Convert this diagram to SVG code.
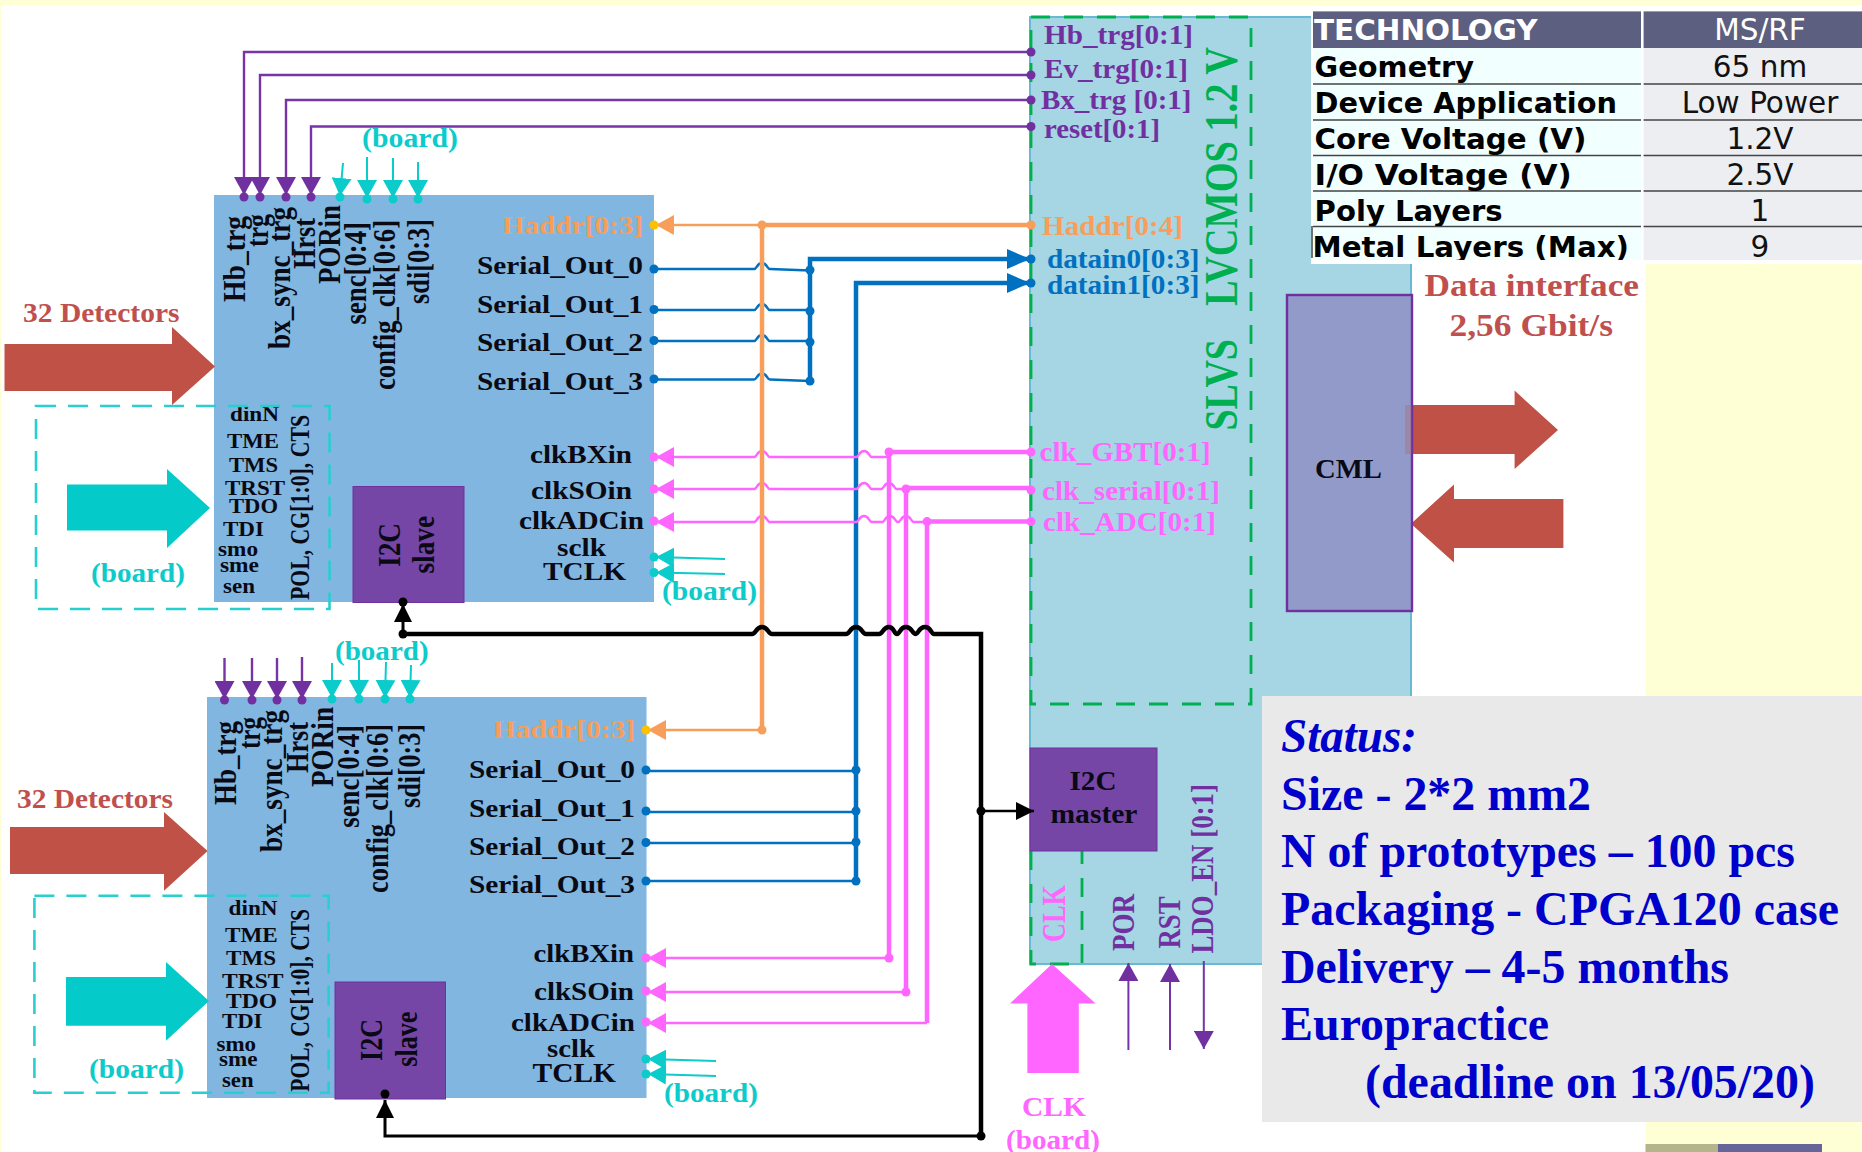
<svg xmlns="http://www.w3.org/2000/svg" width="1862" height="1152" viewBox="0 0 1862 1152">
<style>
text{font-family:"Liberation Serif","Times New Roman",serif;font-weight:bold}
.l{font-size:26px;fill:#0a0a14}
.s{font-size:21px;fill:#0a0a14}
.v{font-size:31px;fill:#0a0a14}
.po{font-size:27px;fill:#0a0a14}
.o{fill:#f79e5a}
.c{fill:#0ccbcb;font-size:27px}
.p{fill:#7030a0;font-size:27px}
.pv{fill:#7030a0;font-size:32px}
.b{fill:#0070c0;font-size:27px}
.m{fill:#ff66ff;font-size:27px}
.mv{fill:#ff66ff;font-size:33px}
.r{fill:#c0504d;font-size:27px}
.big{fill:#c0504d;font-size:31px}
.g{fill:#00b050;font-size:46px}
.st{fill:#0000cc;font-size:48px}
.t,.tv{font-family:"DejaVu Sans",Verdana,sans-serif;font-size:29px}
.t{font-weight:bold;fill:#000}
.tv{font-weight:normal;fill:#111;text-anchor:middle;font-size:29.5px}
.block{fill:#80b6df}
.slave{fill:#7546a6;stroke:#7030a0;stroke-width:1}
.cyanbox{fill:none;stroke:#29cfcf;stroke-width:2.6;stroke-dasharray:20 12}
.greenbox{fill:none;stroke:#00b050;stroke-width:2.8;stroke-dasharray:19 14}
.w{fill:none;stroke-linejoin:miter}
.wp{stroke:#7634a6;stroke-width:2.4}
.wc{stroke:#0ccbcb;stroke-width:2}
.wo{stroke:#f79e5a;stroke-width:2.5}
.wb{stroke:#0070c0;stroke-width:2.5}
.wm{stroke:#ff66ff;stroke-width:2.5}
.wk{stroke:#000;stroke-width:2.5}
.th{stroke-width:4.5}
.dp{fill:#7030a0}.dc{fill:#0ccbcb}.dy{fill:#ffc000}.do{fill:#f79e5a}.db{fill:#0070c0}.dm{fill:#ff66ff}.dk{fill:#000}
.row{stroke:#444;stroke-width:1.5}
</style>
<defs>
<marker id="ap" markerUnits="userSpaceOnUse" viewBox="0 0 18 20" refX="18" refY="10" markerWidth="18" markerHeight="20" orient="auto"><path d="M0 0L18 10L0 20z" fill="#7030a0"/></marker>
<marker id="ac" markerUnits="userSpaceOnUse" viewBox="0 0 18 20" refX="18" refY="10" markerWidth="18" markerHeight="20" orient="auto"><path d="M0 0L18 10L0 20z" fill="#0ccbcb"/></marker>
<marker id="ao" markerUnits="userSpaceOnUse" viewBox="0 0 18 20" refX="18" refY="10" markerWidth="18" markerHeight="20" orient="auto"><path d="M0 0L18 10L0 20z" fill="#f79e5a"/></marker>
<marker id="am" markerUnits="userSpaceOnUse" viewBox="0 0 18 20" refX="18" refY="10" markerWidth="18" markerHeight="20" orient="auto"><path d="M0 0L18 10L0 20z" fill="#ff66ff"/></marker>
<marker id="ab" markerUnits="userSpaceOnUse" viewBox="0 0 23 20" refX="23" refY="10" markerWidth="23" markerHeight="20" orient="auto"><path d="M0 0L23 10L0 20z" fill="#0070c0"/></marker>
<marker id="ak" markerUnits="userSpaceOnUse" viewBox="0 0 18 18" refX="18" refY="9" markerWidth="18" markerHeight="18" orient="auto"><path d="M0 0L18 9L0 18z" fill="#000"/></marker>
<clipPath id="polyclip"><rect x="1311" y="190" width="330" height="36"/></clipPath>
<clipPath id="metalclip"><rect x="1311" y="228" width="330" height="32"/></clipPath>
</defs>
<rect width="1862" height="1152" fill="#ffffd6"/>
<rect x="1" y="5" width="1644.500" height="1147" fill="#fff"/>
<rect x="1645.500" y="1144" width="72.500" height="8" fill="#b5b58c"/>
<rect x="1718" y="1144" width="104" height="8" fill="#65659a"/>

<g id="chip">
<rect x="1030" y="17" width="381" height="947" fill="#a6d5e3" stroke="#68bad2" stroke-width="2"/>
<rect class="greenbox" x="1031" y="17" width="220" height="687"/>
<path class="greenbox" d="M1031 851V964H1082V851"/>
<text class="p" x="1044" y="43.700" textLength="149" lengthAdjust="spacingAndGlyphs">Hb_trg[0:1]</text>
<text class="p" x="1044" y="77.500" textLength="144" lengthAdjust="spacingAndGlyphs">Ev_trg[0:1]</text>
<text class="p" x="1041" y="109" textLength="150.500" lengthAdjust="spacingAndGlyphs">Bx_trg [0:1]</text>
<text class="p" x="1044" y="137.500" textLength="116" lengthAdjust="spacingAndGlyphs">reset[0:1]</text>
<text class="o" style="font-size:27px" x="1042" y="234.700" textLength="141" lengthAdjust="spacingAndGlyphs">Haddr[0:4]</text>
<text class="b" x="1047" y="267.800" textLength="152.500" lengthAdjust="spacingAndGlyphs">datain0[0:3]</text>
<text class="b" x="1047" y="294" textLength="152.500" lengthAdjust="spacingAndGlyphs">datain1[0:3]</text>
<text class="m" x="1039.600" y="461" textLength="171" lengthAdjust="spacingAndGlyphs">clk_GBT[0:1]</text>
<text class="m" x="1042" y="500" textLength="178" lengthAdjust="spacingAndGlyphs">clk_serial[0:1]</text>
<text class="m" x="1043" y="530.600" textLength="173" lengthAdjust="spacingAndGlyphs">clk_ADC[0:1]</text>
<text class="g" transform="translate(1237.400,306) rotate(-90)" textLength="259" lengthAdjust="spacingAndGlyphs">LVCMOS 1.2 V</text>
<text class="g" transform="translate(1237.400,430.600) rotate(-90)" textLength="91.600" lengthAdjust="spacingAndGlyphs">SLVS</text>
<text class="mv" transform="translate(1065,942) rotate(-90)" textLength="57" lengthAdjust="spacingAndGlyphs">CLK</text>
<text class="pv" transform="translate(1133.500,951) rotate(-90)" textLength="57" lengthAdjust="spacingAndGlyphs">POR</text>
<text class="pv" transform="translate(1180,948.500) rotate(-90)" textLength="52" lengthAdjust="spacingAndGlyphs">RST</text>
<text class="pv" transform="translate(1212.600,953.600) rotate(-90)" textLength="169.600" lengthAdjust="spacingAndGlyphs">LDO_EN [0:1]</text>
</g>

<g id="i2c-master">
<rect class="slave" x="1030" y="748" width="127" height="103"/>
<text class="l" style="font-size:28px" x="1069.500" y="789.700" textLength="47" lengthAdjust="spacingAndGlyphs">I2C</text>
<text class="l" style="font-size:28px" x="1050.500" y="823" textLength="87" lengthAdjust="spacingAndGlyphs">master</text>
</g>

<g id="data-interface">
<path d="M1412 405H1514.600V390.600L1558 430L1514.600 469V454H1412z" fill="#bf5146"/>
<path d="M1411 523.700L1454 484.500V499H1563.400V548H1454V562.400z" fill="#bf5146"/>
<text class="big" x="1424.500" y="295.500" textLength="214.500" lengthAdjust="spacingAndGlyphs">Data interface</text>
<text class="big" x="1449.500" y="335.500" textLength="163.500" lengthAdjust="spacingAndGlyphs">2,56 Gbit/s</text>
</g>

<g id="cml">
<rect x="1287" y="295" width="125" height="316" fill="#919ac9" stroke="#7030a0" stroke-width="2.4"/>
<rect x="1405" y="405" width="7" height="49" fill="#bf5146" opacity="0.25"/>
<text class="l" style="font-size:28px" x="1315" y="477.500" textLength="67" lengthAdjust="spacingAndGlyphs">CML</text>
</g>

<g id="block-top">
<rect class="block" x="214" y="195" width="440" height="407"/>
<text class="v" transform="translate(245,302) rotate(-90)" textLength="86" lengthAdjust="spacingAndGlyphs">Hb_trg</text>
<text class="v" transform="translate(268,247) rotate(-90)" textLength="33" lengthAdjust="spacingAndGlyphs">trg</text>
<text class="v" transform="translate(290,349) rotate(-90)" textLength="142" lengthAdjust="spacingAndGlyphs">bx_sync_trg</text>
<text class="v" transform="translate(315,269) rotate(-90)" textLength="51" lengthAdjust="spacingAndGlyphs">Hrst</text>
<text class="v" transform="translate(340,284) rotate(-90)" textLength="79" lengthAdjust="spacingAndGlyphs">PORin</text>
<text class="v" transform="translate(366,324.500) rotate(-90)" textLength="102.500" lengthAdjust="spacingAndGlyphs">senc[0:4]</text>
<text class="v" transform="translate(395,390) rotate(-90)" textLength="170" lengthAdjust="spacingAndGlyphs">config_clk[0:6]</text>
<text class="v" transform="translate(428.600,304) rotate(-90)" textLength="85" lengthAdjust="spacingAndGlyphs">sdi[0:3]</text>
<text class="l o" x="502" y="233.500" textLength="141" lengthAdjust="spacingAndGlyphs">Haddr[0:3]</text>
<text class="l" x="477" y="274" textLength="166" lengthAdjust="spacingAndGlyphs">Serial_Out_0</text>
<text class="l" x="477" y="313" textLength="166" lengthAdjust="spacingAndGlyphs">Serial_Out_1</text>
<text class="l" x="477" y="351" textLength="166" lengthAdjust="spacingAndGlyphs">Serial_Out_2</text>
<text class="l" x="477" y="390" textLength="166" lengthAdjust="spacingAndGlyphs">Serial_Out_3</text>
<text class="l" x="530" y="463" textLength="102" lengthAdjust="spacingAndGlyphs">clkBXin</text>
<text class="l" x="531" y="499" textLength="101" lengthAdjust="spacingAndGlyphs">clkSOin</text>
<text class="l" x="519" y="529" textLength="125" lengthAdjust="spacingAndGlyphs">clkADCin</text>
<text class="l" x="557" y="556" textLength="49" lengthAdjust="spacingAndGlyphs">sclk</text>
<text class="l" x="543" y="580" textLength="83" lengthAdjust="spacingAndGlyphs">TCLK</text>
<text class="s" x="230" y="421" textLength="49" lengthAdjust="spacingAndGlyphs">dinN</text>
<text class="s" x="227" y="448" textLength="52" lengthAdjust="spacingAndGlyphs">TME</text>
<text class="s" x="229" y="472" textLength="49" lengthAdjust="spacingAndGlyphs">TMS</text>
<text class="s" x="225" y="495" textLength="60" lengthAdjust="spacingAndGlyphs">TRST</text>
<text class="s" x="229" y="513" textLength="49" lengthAdjust="spacingAndGlyphs">TDO</text>
<text class="s" x="223" y="535.500" textLength="41" lengthAdjust="spacingAndGlyphs">TDI</text>
<text class="s" x="218" y="556" textLength="40" lengthAdjust="spacingAndGlyphs">smo</text>
<text class="s" x="220" y="572" textLength="39" lengthAdjust="spacingAndGlyphs">sme</text>
<text class="s" x="223" y="593" textLength="32" lengthAdjust="spacingAndGlyphs">sen</text>
<text class="po" transform="translate(309,600) rotate(-90)" textLength="185" lengthAdjust="spacingAndGlyphs">POL, CG[1:0], CTS</text>
<rect class="slave" x="353" y="486.500" width="111" height="116"/>
<text class="v" transform="translate(399.600,567) rotate(-90)" textLength="44" lengthAdjust="spacingAndGlyphs">I2C</text>
<text class="v" transform="translate(434,573.500) rotate(-90)" textLength="57.500" lengthAdjust="spacingAndGlyphs">slave</text>
</g>

<g id="block-bottom">
<rect class="block" x="207" y="697" width="439.500" height="401"/>
<text class="v" transform="translate(235.700,805) rotate(-90)" textLength="84" lengthAdjust="spacingAndGlyphs">Hb_trg</text>
<text class="v" transform="translate(260,749) rotate(-90)" textLength="32" lengthAdjust="spacingAndGlyphs">trg</text>
<text class="v" transform="translate(282,852) rotate(-90)" textLength="142" lengthAdjust="spacingAndGlyphs">bx_sync_trg</text>
<text class="v" transform="translate(308,773) rotate(-90)" textLength="51" lengthAdjust="spacingAndGlyphs">Hrst</text>
<text class="v" transform="translate(332.600,787) rotate(-90)" textLength="80" lengthAdjust="spacingAndGlyphs">PORin</text>
<text class="v" transform="translate(359,827.700) rotate(-90)" textLength="102.700" lengthAdjust="spacingAndGlyphs">senc[0:4]</text>
<text class="v" transform="translate(387.500,893) rotate(-90)" textLength="169" lengthAdjust="spacingAndGlyphs">config_clk[0:6]</text>
<text class="v" transform="translate(419.600,808) rotate(-90)" textLength="84" lengthAdjust="spacingAndGlyphs">sdi[0:3]</text>
<text class="l o" x="493" y="738" textLength="142" lengthAdjust="spacingAndGlyphs">Haddr[0:3]</text>
<text class="l" x="469" y="777.700" textLength="166" lengthAdjust="spacingAndGlyphs">Serial_Out_0</text>
<text class="l" x="469" y="816.700" textLength="166" lengthAdjust="spacingAndGlyphs">Serial_Out_1</text>
<text class="l" x="469" y="855" textLength="166" lengthAdjust="spacingAndGlyphs">Serial_Out_2</text>
<text class="l" x="469" y="893" textLength="166" lengthAdjust="spacingAndGlyphs">Serial_Out_3</text>
<text class="l" x="533.500" y="961.700" textLength="100.500" lengthAdjust="spacingAndGlyphs">clkBXin</text>
<text class="l" x="534" y="1000" textLength="100" lengthAdjust="spacingAndGlyphs">clkSOin</text>
<text class="l" x="511" y="1030.700" textLength="124" lengthAdjust="spacingAndGlyphs">clkADCin</text>
<text class="l" x="547" y="1057" textLength="48" lengthAdjust="spacingAndGlyphs">sclk</text>
<text class="l" style="font-size:28px" x="532.600" y="1081.700" textLength="83.400" lengthAdjust="spacingAndGlyphs">TCLK</text>
<text class="s" x="228.600" y="915" textLength="49" lengthAdjust="spacingAndGlyphs">dinN</text>
<text class="s" x="225" y="941.700" textLength="52.700" lengthAdjust="spacingAndGlyphs">TME</text>
<text class="s" x="226" y="965" textLength="50" lengthAdjust="spacingAndGlyphs">TMS</text>
<text class="s" x="222" y="988" textLength="61.500" lengthAdjust="spacingAndGlyphs">TRST</text>
<text class="s" x="226" y="1007.700" textLength="51" lengthAdjust="spacingAndGlyphs">TDO</text>
<text class="s" x="222" y="1028" textLength="40.500" lengthAdjust="spacingAndGlyphs">TDI</text>
<text class="s" x="216.500" y="1050.700" textLength="39.500" lengthAdjust="spacingAndGlyphs">smo</text>
<text class="s" x="219" y="1065.700" textLength="38.600" lengthAdjust="spacingAndGlyphs">sme</text>
<text class="s" x="222" y="1086.700" textLength="31.600" lengthAdjust="spacingAndGlyphs">sen</text>
<text class="po" transform="translate(309.400,1091.700) rotate(-90)" textLength="182.700" lengthAdjust="spacingAndGlyphs">POL, CG[1:0], CTS</text>
<rect class="slave" x="335" y="982" width="110.500" height="117"/>
<text class="v" transform="translate(381.700,1061) rotate(-90)" textLength="42" lengthAdjust="spacingAndGlyphs">I2C</text>
<text class="v" transform="translate(416.500,1066.700) rotate(-90)" textLength="55" lengthAdjust="spacingAndGlyphs">slave</text>
</g>

<g id="detectors-top">
<path d="M4.500 344H172V327L215 366.500L172 405V391H4.500z" fill="#bf5146"/>
<text class="r" x="23" y="321.600" textLength="156.500" lengthAdjust="spacingAndGlyphs">32 Detectors</text>
</g>
<g id="detectors-bottom">
<path d="M10 827H164V812L207.600 851L164 890.700V874H10z" fill="#bf5146"/>
<text class="r" x="17" y="808" textLength="156" lengthAdjust="spacingAndGlyphs">32 Detectors</text>
</g>
<g id="board-top">
<rect class="cyanbox" x="36" y="406" width="293.500" height="203"/>
<path d="M67 484.500H167V469L210 508L167 548V530.600H67z" fill="#05caca"/>
<text class="c" x="91" y="581.600" textLength="94" lengthAdjust="spacingAndGlyphs">(board)</text>
</g>
<g id="board-bottom">
<rect class="cyanbox" x="34.400" y="895.700" width="294.200" height="197"/>
<path d="M66 977H166V962L209 1001L166 1040.700V1025.700H66z" fill="#05caca"/>
<text class="c" x="89" y="1078" textLength="95" lengthAdjust="spacingAndGlyphs">(board)</text>
</g>
<g id="clk-in">
<path d="M1052 964L1095.600 1003.400H1078.800V1073H1027.400V1003.400H1010z" fill="#ff66ff"/>
<text class="m" x="1022" y="1116.400" textLength="64" lengthAdjust="spacingAndGlyphs">CLK</text>
<text class="m" x="1006" y="1149" textLength="94" lengthAdjust="spacingAndGlyphs">(board)</text>
</g>
<g id="board-labels">
<text class="c" x="362" y="147" textLength="96" lengthAdjust="spacingAndGlyphs">(board)</text>
<text class="c" x="335" y="660" textLength="93.600" lengthAdjust="spacingAndGlyphs">(board)</text>
<text class="c" x="662" y="600" textLength="95" lengthAdjust="spacingAndGlyphs">(board)</text>
<text class="c" x="664" y="1102" textLength="94" lengthAdjust="spacingAndGlyphs">(board)</text>
</g>

<g id="connectors">
<path class="w wp" marker-end="url(#ap)" d="M1031 52H244V195"/>
<path class="w wp" marker-end="url(#ap)" d="M1031 75H260V195"/>
<path class="w wp" marker-end="url(#ap)" d="M1031 100H286V195"/>
<path class="w wp" marker-end="url(#ap)" d="M1031 126.500H311V195"/>
<path class="w wc" marker-end="url(#ac)" d="M343 163L340 196"/>
<path class="w wc" marker-end="url(#ac)" d="M367 157V198"/>
<path class="w wc" marker-end="url(#ac)" d="M393 158V198"/>
<path class="w wc" marker-end="url(#ac)" d="M418 162V198"/>
<path class="w wp" marker-end="url(#ap)" d="M224.500 658V699"/>
<path class="w wp" marker-end="url(#ap)" d="M252 658V699"/>
<path class="w wp" marker-end="url(#ap)" d="M277 658V699"/>
<path class="w wp" marker-end="url(#ap)" d="M302 657V699"/>
<path class="w wc" marker-end="url(#ac)" d="M332 663V698"/>
<path class="w wc" marker-end="url(#ac)" d="M359 660V698"/>
<path class="w wc" marker-end="url(#ac)" d="M386 662L385 698"/>
<path class="w wc" marker-end="url(#ac)" d="M411 665L410 698"/>
<path class="w wc" marker-end="url(#ac)" d="M725 559L656 557"/>
<path class="w wc" marker-end="url(#ac)" d="M725 574L656 572.500"/>
<path class="w wc" marker-end="url(#ac)" d="M716 1061L648 1059"/>
<path class="w wc" marker-end="url(#ac)" d="M716 1076L648 1074"/>

<path class="w wb" d="M654 269H754c3,0 3,-6 8,-6s5,6 8,6L810 270.500"/>
<path class="w wb" d="M654 310H754c3,0 3,-6 8,-6s5,6 8,6H810"/>
<path class="w wb" d="M654 341H754c3,0 3,-6 8,-6s5,6 8,6H810"/>
<path class="w wb" d="M654 379.500H754c3,0 3,-6 8,-6s5,6 8,6L810 381"/>
<path class="w wb th" marker-end="url(#ab)" d="M810 381V259H1030"/>
<path class="w wb th" marker-end="url(#ab)" d="M856 881V283H1030"/>
<path class="w wb" d="M646 771H856M646 812H856M646 843H856M646 881H856"/>

<path class="w wm" marker-end="url(#am)" d="M889 457H872c-3,0 -3,-6 -8,-6s-5,6 -8,6s-3,0 -8,0H770c-3,0 -3,-6 -8,-6s-5,6 -8,6H656"/>
<path class="w wm" marker-end="url(#am)" d="M906 489H897c-3,0 -3,-6 -8,-6s-5,6 -8,6H872c-3,0 -3,-6 -8,-6s-5,6 -8,6s-3,0 -8,0H770c-3,0 -3,-6 -8,-6s-5,6 -8,6H656"/>
<path class="w wm" marker-end="url(#am)" d="M927 522H914c-3,0 -3,-6 -8,-6s-5,6 -8,6c-3,0 -3,-6 -8,-6s-5,6 -8,6H872c-3,0 -3,-6 -8,-6s-5,6 -8,6s-3,0 -8,0H770c-3,0 -3,-6 -8,-6s-5,6 -8,6H656"/>
<path class="w wm th" d="M1031 452H889V958"/>
<path class="w wm th" d="M1031 488H906V992"/>
<path class="w wm th" d="M1031 521.600H927V1023"/>
<path class="w wm" marker-end="url(#am)" d="M889 958H648"/>
<path class="w wm" marker-end="url(#am)" d="M906 992H648"/>
<path class="w wm" marker-end="url(#am)" d="M927 1023H648"/>

<path class="w wo" marker-end="url(#ao)" d="M762 225H656"/>
<path class="w wo th" d="M1031 225H762V730"/>
<path class="w wo" marker-end="url(#ao)" d="M762 730H648"/>

<path class="w wk th" d="M403 634H752c4,0 4,-7 10,-7s6,7 10,7H846c4,0 4,-7 10,-7s6,7 10,7H879c4,0 4,-7 10,-7c5,0 5,7 8,7c3,0 3,-7 9,-7s6,7 10,7c2,0 3,-7 9,-7s6,7 9,7H981V1136"/>
<path class="w wk" style="stroke-width:3" marker-end="url(#ak)" d="M403 634V604"/>
<path class="w wk" style="stroke-width:3" marker-end="url(#ak)" d="M981 1136H385V1100"/>
<path class="w wk" marker-end="url(#ak)" d="M981 811H1034"/>
<path class="w wp" style="stroke-width:2" marker-end="url(#ap)" d="M1128.400 1050V963"/>
<path class="w wp" style="stroke-width:2" marker-end="url(#ap)" d="M1170 1050V964"/>
<path class="w wp" style="stroke-width:2" marker-end="url(#ap)" d="M1203.800 961V1049"/>
<g id="dots">
<circle class="dp" cx="244" cy="197" r="4.500"/><circle class="dp" cx="260" cy="197" r="4.500"/><circle class="dp" cx="286" cy="197" r="4.500"/><circle class="dp" cx="311" cy="197" r="4.500"/>
<circle class="dc" cx="340" cy="197" r="4.500"/><circle class="dc" cx="367" cy="199" r="4.500"/><circle class="dc" cx="393" cy="199" r="4.500"/><circle class="dc" cx="418" cy="199" r="4.500"/>
<circle class="dp" cx="224.500" cy="700" r="4.500"/><circle class="dp" cx="252" cy="700" r="4.500"/><circle class="dp" cx="277" cy="700" r="4.500"/><circle class="dp" cx="302" cy="700" r="4.500"/>
<circle class="dc" cx="332" cy="699" r="4.500"/><circle class="dc" cx="359" cy="699" r="4.500"/><circle class="dc" cx="385" cy="699" r="4.500"/><circle class="dc" cx="410" cy="699" r="4.500"/>
<circle class="dp" cx="1031" cy="52" r="4.500"/><circle class="dp" cx="1031" cy="75" r="4.500"/><circle class="dp" cx="1031" cy="100" r="4.500"/><circle class="dp" cx="1031" cy="126.500" r="4.500"/>
<circle class="dy" cx="654" cy="225" r="4.500"/><circle class="dy" cx="646" cy="730" r="4.500"/>
<circle class="do" cx="762" cy="225" r="4.500"/><circle class="do" cx="762" cy="730" r="4.500"/><circle class="do" cx="1031" cy="225" r="4.500"/>
<circle class="db" cx="654" cy="269" r="4.500"/><circle class="db" cx="654" cy="309.500" r="4.500"/><circle class="db" cx="654" cy="340.500" r="4.500"/><circle class="db" cx="654" cy="379" r="4.500"/>
<circle class="db" cx="810" cy="270" r="4.500"/><circle class="db" cx="810" cy="311" r="4.500"/><circle class="db" cx="810" cy="342" r="4.500"/><circle class="db" cx="810" cy="381" r="4.500"/>
<circle class="db" cx="1031" cy="259" r="4.500"/><circle class="db" cx="1031" cy="283" r="4.500"/>
<circle class="db" cx="646" cy="770" r="4.500"/><circle class="db" cx="646" cy="811" r="4.500"/><circle class="db" cx="646" cy="842.500" r="4.500"/><circle class="db" cx="646" cy="881" r="4.500"/>
<circle class="db" cx="856" cy="770" r="4.500"/><circle class="db" cx="856" cy="811" r="4.500"/><circle class="db" cx="856" cy="842" r="4.500"/><circle class="db" cx="856" cy="881" r="4.500"/>
<circle class="dm" cx="654" cy="457" r="4.500"/><circle class="dm" cx="654" cy="489" r="4.500"/><circle class="dm" cx="654" cy="521" r="4.500"/>
<circle class="dm" cx="646" cy="958" r="4.500"/><circle class="dm" cx="646" cy="991" r="4.500"/><circle class="dm" cx="646" cy="1022" r="4.500"/>
<circle class="dm" cx="889" cy="452" r="4.500"/><circle class="dm" cx="906" cy="489" r="4.500"/><circle class="dm" cx="927" cy="521.600" r="4.500"/>
<circle class="dm" cx="1031" cy="452" r="4.500"/><circle class="dm" cx="1031" cy="490" r="4.500"/><circle class="dm" cx="1031" cy="521.600" r="4.500"/>
<circle class="dm" cx="889" cy="958" r="4.500"/><circle class="dm" cx="906" cy="992" r="4.500"/>
<circle class="dc" cx="654" cy="557" r="4.500"/><circle class="dc" cx="654" cy="572.500" r="4.500"/><circle class="dc" cx="646" cy="1059" r="4.500"/><circle class="dc" cx="646" cy="1074" r="4.500"/>
<circle class="dk" cx="403" cy="602" r="4.500"/><circle class="dk" cx="403" cy="634" r="4.500"/><circle class="dk" cx="385" cy="1094" r="4.500"/><circle class="dk" cx="981" cy="811" r="4.500"/><circle class="dk" cx="981" cy="1136" r="4.500"/>
</g>
</g>

<g id="table">
<rect x="1311" y="5" width="551" height="259" fill="#fff"/>
<rect x="1313" y="11.400" width="328" height="36.600" fill="#5c5f80"/>
<rect x="1643.600" y="11.400" width="218.400" height="36.600" fill="#5c5f80"/>
<rect x="1313" y="48" width="328" height="212" fill="#f2ffff"/>
<rect x="1643.600" y="48" width="218.400" height="212" fill="#edeef2"/>
<path class="row" d="M1313 84H1641M1643.600 84H1862M1313 120H1641M1643.600 120H1862M1313 155.500H1641M1643.600 155.500H1862M1313 191H1641M1643.600 191H1862M1313 226.500H1641M1643.600 226.500H1862M1312 226V258"/>
<text class="t" style="fill:#fff" x="1314" y="40.200" textLength="223.600" lengthAdjust="spacingAndGlyphs">TECHNOLOGY</text>
<text class="t" x="1314.600" y="77" textLength="159.400" lengthAdjust="spacingAndGlyphs">Geometry</text>
<text class="t" x="1314.600" y="112.800" textLength="302.400" lengthAdjust="spacingAndGlyphs">Device Application</text>
<text class="t" x="1314.600" y="148.800" textLength="271.800" lengthAdjust="spacingAndGlyphs">Core Voltage (V)</text>
<text class="t" x="1314.600" y="185" textLength="257.100" lengthAdjust="spacingAndGlyphs">I/O Voltage (V)</text>
<text class="t" clip-path="url(#polyclip)" x="1314.600" y="221" textLength="188.100" lengthAdjust="spacingAndGlyphs">Poly Layers</text>
<text class="t" clip-path="url(#metalclip)" x="1312.500" y="256.500" textLength="316.500" lengthAdjust="spacingAndGlyphs">Metal Layers (Max)</text>
<text class="tv" style="fill:#fff" x="1760" y="40.200">MS/RF</text>
<text class="tv" x="1760" y="77">65 nm</text>
<text class="tv" x="1760" y="112.800">Low Power</text>
<text class="tv" x="1760" y="148.800">1.2V</text>
<text class="tv" x="1760" y="185">2.5V</text>
<text class="tv" x="1760" y="221">1</text>
<text class="tv" x="1760" y="256.500">9</text>
</g>

<g id="status">
<rect x="1262" y="696" width="600" height="426" fill="#e9e9e9"/>
<text class="st" font-style="italic" x="1281" y="752" textLength="136" lengthAdjust="spacingAndGlyphs">Status:</text>
<text class="st" x="1281" y="810" textLength="310" lengthAdjust="spacingAndGlyphs">Size - 2*2 mm2</text>
<text class="st" x="1281" y="867" textLength="514" lengthAdjust="spacingAndGlyphs">N of prototypes – 100 pcs</text>
<text class="st" x="1281" y="925" textLength="558" lengthAdjust="spacingAndGlyphs">Packaging - CPGA120 case</text>
<text class="st" x="1281" y="983" textLength="448" lengthAdjust="spacingAndGlyphs">Delivery – 4-5 months</text>
<text class="st" x="1281" y="1040" textLength="268" lengthAdjust="spacingAndGlyphs">Europractice</text>
<text class="st" x="1365" y="1098" textLength="450" lengthAdjust="spacingAndGlyphs">(deadline on 13/05/20)</text>
</g>
</svg>
